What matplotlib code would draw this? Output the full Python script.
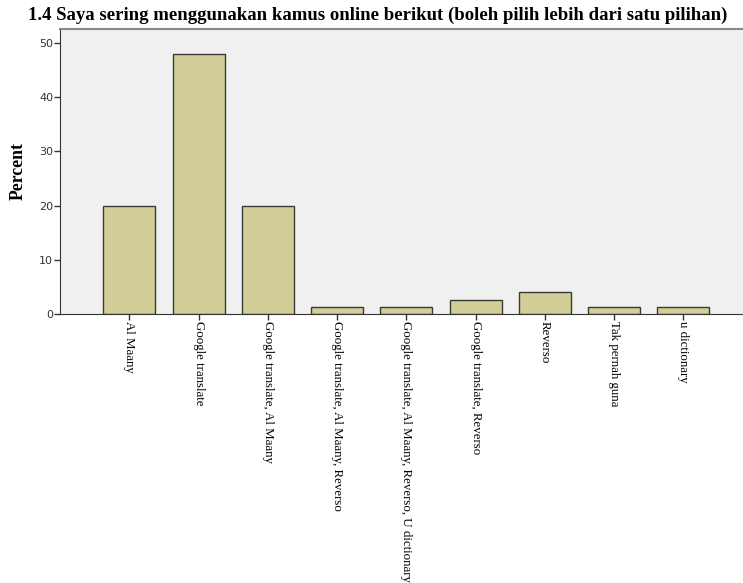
import numpy as np
import matplotlib.pyplot as plt

# kamus online yang digunakan (persen responden)
categories = ["Al Maany", "Google translate", "Google translate, Al Maany",
              "Google translate, Al Maany, Reverso",
              "Google translate, Al Maany, Reverso, U dictionary",
              "Google translate, Reverso", "Reverso", "Tak pernah guna",
              "u dictionary"]
percent = [20.0, 48.0, 20.0, 1.33, 1.33, 2.67, 4.0, 1.33, 1.33]
y_ticks = [0, 10, 20, 30, 40, 50]

plt.rcParams['font.family'] = ['Liberation Serif', 'DejaVu Serif']

fig = plt.figure(figsize=(7.43, 5.83), dpi=100)
ax = fig.add_axes([0.0808, 0.4614, 0.9192, 0.4889])
ax.set_facecolor("#f0f0f0")

x = np.arange(len(categories))
ax.bar(x, percent, width=0.75, color="#d3ce97", edgecolor="#3a3a3a", linewidth=1.0, zorder=2)

ax.set_xlim(-1, 8.86)
ax.set_ylim(0, 52.6)
ax.set_yticks(y_ticks)
ax.set_yticklabels([str(t) for t in y_ticks], family="DejaVu Sans", fontsize=8, color="#333333")
ax.set_xticks(x)
ax.set_xticklabels(categories, rotation=270, fontsize=9.3, va="top", ha="center")
ax.tick_params(axis="y", length=4, width=1, color="#333333", pad=1)
ax.tick_params(axis="x", length=4, width=1, color="#333333", pad=1)

ax.spines["right"].set_visible(False)
ax.spines["top"].set_color("#888888")
ax.spines["top"].set_linewidth(1.5)
ax.spines["left"].set_color("#333333")
ax.spines["bottom"].set_color("#333333")

ax.set_ylabel("Percent", fontsize=12.8, fontweight="bold", labelpad=9)
fig.text(0.508, 0.973, "1.4 Saya sering menggunakan kamus online berikut (boleh pilih lebih dari satu pilihan)",
         ha="center", va="center", fontsize=13.5, fontweight="bold")

fig.savefig("out.png", dpi=100)
